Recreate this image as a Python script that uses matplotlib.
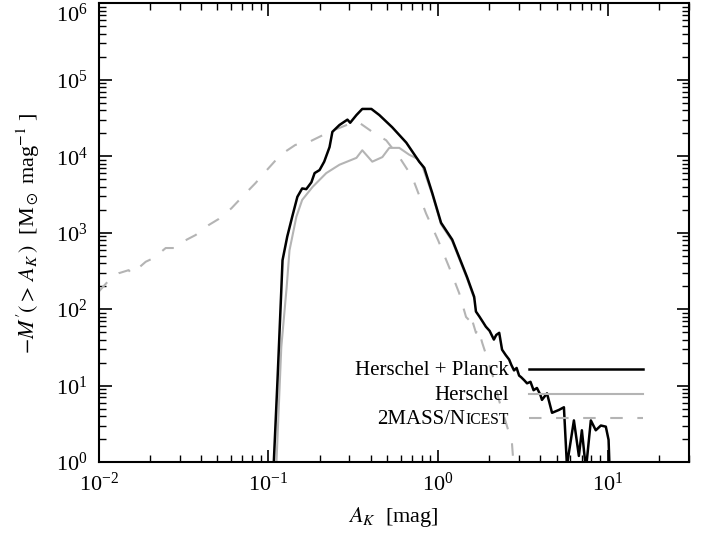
import matplotlib
matplotlib.use("Agg")
import matplotlib.pyplot as plt
import matplotlib.transforms as mtransforms
from matplotlib.ticker import LogLocator, FixedLocator, NullFormatter

plt.rcParams['font.family'] = 'serif'
plt.rcParams['font.serif'] = ['Liberation Serif', 'DejaVu Serif']
plt.rcParams['mathtext.fontset'] = 'stix'

# Herschel + Planck (black)
hp_ak = [0.106, 0.113, 0.119, 0.121, 0.129, 0.138, 0.148, 0.158, 0.167, 0.179,
         0.187, 0.200, 0.213, 0.229, 0.238, 0.262, 0.292, 0.303, 0.330, 0.357,
         0.404, 0.450, 0.536, 0.649, 0.773, 0.828, 0.923, 1.04, 1.21, 1.33,
         1.48, 1.63, 1.67, 1.75, 1.85, 1.91, 2.01, 2.13, 2.20, 2.29, 2.38,
         2.50, 2.62, 2.70, 2.80, 2.90, 3.00, 3.08, 3.22, 3.34, 3.50, 3.65,
         3.82, 4.00, 4.09, 4.38, 4.69, 5.15, 5.51, 5.74, 6.31, 6.75, 7.03,
         7.43, 7.94, 8.49, 9.10, 9.73, 10.1, 10.4]
hp_m = [0.5, 11.7, 178, 437, 891, 1620, 2950, 3800, 3720, 4570,
        6030, 6610, 8510, 13200, 20900, 25700, 30200, 27500, 34700, 41700,
        41700, 34700, 24000, 15100, 8510, 7080, 3310, 1350, 813, 479,
        263, 145, 93, 80, 66, 59, 52, 40, 46, 49, 29.5,
        25.1, 21.9, 18.6, 15.8, 17.0, 13.5, 12.9, 11.7, 10.7, 11.2, 8.7,
        9.3, 7.6, 6.5, 7.9, 4.4, 4.8, 5.2, 0.9, 3.5, 1.2, 2.6,
        0.8, 3.5, 2.6, 3.0, 2.9, 1.95, 0.3]

# Herschel only (grey solid)
h_ak = [0.110, 0.119, 0.128, 0.133, 0.146, 0.158, 0.182, 0.219, 0.262, 0.330,
        0.357, 0.409, 0.469, 0.515, 0.590, 0.675, 0.752, 0.805, 0.923, 1.04,
        1.21, 1.33, 1.48, 1.63]
h_m = [0.5, 32, 195, 589, 1620, 2690, 3980, 6030, 7760, 9550,
       12000, 8510, 9770, 12900, 12900, 10500, 9330, 7590, 3160, 1290,
       776, 457, 251, 138]

# 2MASS / NICEST (grey dashed)
n_ak = [0.0100, 0.0115, 0.0131, 0.0150, 0.0156, 0.0189, 0.0211, 0.0248, 0.0284, 0.0330,
        0.0372, 0.0444, 0.0508, 0.0605, 0.0693, 0.0839, 0.0960, 0.118, 0.144, 0.174,
        0.229, 0.312, 0.343, 0.409, 0.494, 0.590, 0.703, 0.849, 1.00, 1.16,
        1.33, 1.46, 1.52, 1.55, 1.67, 1.72, 1.82, 2.08, 2.29, 2.55, 2.72, 2.84]
n_m = [170, 240, 295, 324, 288, 417, 468, 631, 631, 813,
       933, 1260, 1510, 2090, 2880, 4470, 6310, 10500, 14100, 15500,
       20900, 27500, 27500, 20900, 16200, 9770, 5370, 1780, 794, 355,
       162, 79, 72, 85, 49, 56, 36, 14.5, 6.3, 2.9, 1.8, 0.5]

y_major = [1, 10, 100, 1e3, 1e4, 1e5, 1e6]
x_major = [0.01, 0.1, 1, 10]

grey = '#b4b4b4'

fig = plt.figure(figsize=(7.16, 5.37), dpi=100)
ax = fig.add_axes([0.138, 0.1397, 0.824, 0.8538])

ax.plot(n_ak, n_m, color=grey, lw=1.5, dashes=(6, 7))
ax.plot(h_ak, h_m, color=grey, lw=1.5)
ax.plot(hp_ak, hp_m, color='black', lw=1.8)

ax.set_xscale('log')
ax.set_yscale('log')
ax.set_xlim(0.01, 30)
ax.set_ylim(1, 1e6)

ax.xaxis.set_major_locator(FixedLocator(x_major))
ax.yaxis.set_major_locator(FixedLocator(y_major))
for a in (ax.xaxis, ax.yaxis):
    a.set_minor_locator(LogLocator(base=10, subs=range(2, 10), numticks=20))
    a.set_minor_formatter(NullFormatter())
ax.tick_params(which='both', direction='in', top=True, right=True, labelsize=16)
ax.tick_params(which='major', length=9, width=1.2, pad=8)
ax.tick_params(which='minor', length=5, width=1.0)
for s in ax.spines.values():
    s.set_linewidth(1.5)

# top y label sits just inside the figure, as in the original
top_tick = ax.yaxis.get_major_ticks()[len(y_major) - 1]
top_tick.label1.set_va('top')

ax.set_xlabel(r'$A_K$  [mag]', fontsize=16, labelpad=6)
ax.set_ylabel(r"$-M^{\prime}(>\,A_K\,)$  [M$_\odot$ mag$^{-1}$ ]", fontsize=16, labelpad=10)

# legend: text on the left, line sample on the right
x_txt, x0, x1 = 0.695, 0.729, 0.922
rows = [0.203, 0.148, 0.096]
styles = [dict(color='black', lw=1.8), dict(color=grey, lw=1.5),
          dict(color=grey, lw=1.5, dashes=(6, 7))]
for yy, st in zip(rows, styles):
    ax.plot([x0, x1], [yy, yy], transform=ax.transAxes, **st)

fs = 15
ax.text(x_txt, rows[0] - 0.013, 'Herschel + Planck', transform=ax.transAxes,
        ha='right', va='baseline', fontsize=fs)
ax.text(x_txt, rows[1] - 0.013, 'Herschel', transform=ax.transAxes,
        ha='right', va='baseline', fontsize=fs)
t_sc = ax.text(x_txt, rows[2] - 0.013, 'ICEST', transform=ax.transAxes,
               ha='right', va='baseline', fontsize=fs * 0.75)
fig.canvas.draw()
w = t_sc.get_window_extent().width
off = mtransforms.offset_copy(ax.transAxes, fig=fig, x=-w, y=0, units='dots')
ax.text(x_txt, rows[2] - 0.013, '2MASS/N', transform=off,
        ha='right', va='baseline', fontsize=fs)

fig.savefig('out.png', dpi=100)
